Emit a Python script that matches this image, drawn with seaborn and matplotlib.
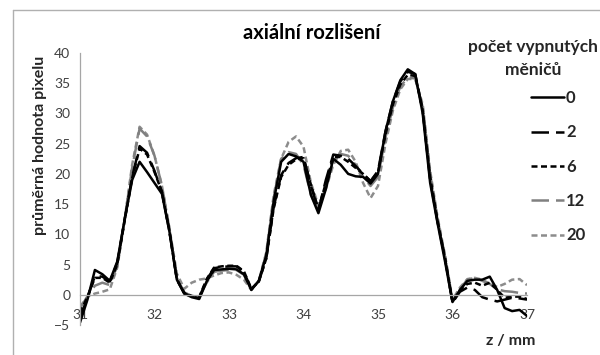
import numpy as np
import pandas as pd
import matplotlib
matplotlib.use("Agg")
import matplotlib.pyplot as plt
from matplotlib.lines import Line2D
import seaborn as sns

z = np.round(np.linspace(31.0, 37.0, 61), 2)

s0 = [-4.6, -0.8, 4.1, 3.4, 2.3, 5.5, 12.5, 19.0, 22.0, 20.3,
      18.5, 16.7, 10.5, 2.5, 0.2, -0.4, -0.7, 2.2, 4.1, 4.2,
      4.3, 4.2, 3.4, 0.8, 2.3, 6.5, 15.5, 22.0, 23.3, 22.9,
      22.0, 16.5, 13.5, 17.5, 22.5, 21.5, 20.0, 19.6, 19.5, 18.4,
      20.0, 27.0, 32.0, 35.5, 37.3, 36.5, 30.0, 18.5, 11.8, 5.5,
      -1.2, 0.8, 2.3, 2.5, 2.5, 3.0, 0.8, -2.2, -2.7, -2.5, -3.5]
s2 = [-3.8, -0.5, 3.1, 3.0, 2.2, 5.3, 12.5, 19.5, 24.6, 23.5,
      20.5, 17.0, 10.5, 2.5, 0.2, -0.3, -0.5, 2.5, 4.4, 4.6,
      4.7, 4.7, 3.8, 0.9, 2.2, 6.0, 14.5, 19.8, 21.8, 22.6,
      22.8, 18.0, 14.0, 19.0, 23.2, 23.0, 22.5, 21.3, 20.0, 18.8,
      20.5, 27.0, 32.0, 35.3, 36.9, 36.5, 30.5, 19.0, 12.0, 6.0,
      -1.3, 0.5, 1.2, 0.8, -0.4, -0.8, -1.1, -0.8, -0.5, -0.6, -0.8]
s6 = [-3.0, -0.3, 2.8, 2.8, 2.0, 5.0, 12.3, 19.3, 24.2, 23.2,
      20.3, 17.0, 10.5, 2.6, 0.3, -0.2, -0.4, 2.6, 4.5, 4.7,
      4.8, 4.8, 3.9, 1.0, 2.2, 6.0, 14.3, 19.5, 21.5, 22.4,
      22.6, 18.2, 14.2, 18.5, 22.8, 22.8, 22.0, 21.0, 20.0, 18.8,
      20.3, 26.5, 31.5, 34.8, 36.4, 36.2, 30.5, 19.5, 12.2, 6.0,
      -1.2, 0.8, 1.8, 2.0, 1.5, 2.0, 0.8, -0.5, -0.3, -0.3, -0.7]
s12 = [-2.2, -0.3, 1.5, 2.0, 1.6, 4.8, 12.5, 21.0, 27.5, 26.2,
       23.0, 18.0, 11.0, 2.8, 0.4, -0.2, -0.3, 2.0, 3.8, 4.0,
       4.1, 4.1, 3.3, 0.9, 2.3, 6.8, 16.0, 22.5, 23.6, 23.3,
       21.5, 16.5, 14.0, 18.0, 22.0, 23.3, 23.0, 21.5, 19.5, 18.0,
       19.5, 26.0, 31.0, 34.5, 35.9, 35.8, 31.0, 20.0, 12.5, 6.3,
       -1.0, 1.0, 2.5, 2.8, 2.3, 1.8, 0.9, 0.6, 0.5, 0.3, 0.2]
s20 = [-2.0, -0.3, 0.2, 0.5, 0.9, 4.5, 12.5, 21.5, 27.8, 26.5,
       23.0, 18.0, 11.0, 3.5, 1.0, 2.0, 2.5, 2.7, 3.2, 3.6,
       3.7, 3.3, 2.5, 0.8, 2.3, 7.0, 16.5, 22.5, 25.3, 26.2,
       24.5, 18.5, 14.8, 17.5, 21.5, 23.8, 24.0, 22.0, 18.5, 16.0,
       18.0, 25.0, 30.5, 34.0, 35.7, 35.7, 31.5, 20.5, 12.8, 6.5,
       -0.8, 1.2, 2.6, 2.8, 2.5, 1.8, 1.3, 1.8, 2.5, 2.6, 1.6]

labels = ["0", "2", "6", "12", "20"]
series = [s0, s2, s6, s12, s20]
y_ticks = [-5, 0, 5, 10, 15, 20, 25, 30, 35, 40]
x_ticks = [31, 32, 33, 34, 35, 36, 37]

colors = {"0": "#000000", "2": "#000000", "6": "#000000", "12": "#808080", "20": "#8c8c8c"}
dashes = {"0": "", "2": (7, 2.8), "6": (2.4, 1.4), "12": (7, 2.8), "20": (2.4, 1.4)}

df = pd.concat([pd.DataFrame({"z": z, "v": s, "n": lab}) for lab, s in zip(labels, series)],
               ignore_index=True)

sns.set_style("white")
plt.rcParams["font.family"] = ["Lato", "DejaVu Sans"]

fig = plt.figure(figsize=(6, 3.55), dpi=100)
ax = fig.add_axes([80/600, 1-325/355, 447/600, 272/355])
LW = 1.8
sns.lineplot(data=df, x="z", y="v", hue="n", style="n", palette=colors, dashes=dashes,
             hue_order=labels[::-1], style_order=labels[::-1],
             linewidth=LW, legend=False, ax=ax, sort=False)

ax.set_xlim(31, 37)
ax.set_ylim(-5, 40)
ax.set_xticks(x_ticks)
ax.set_yticks(y_ticks)
ax.set_xlabel("")
ax.set_ylabel("")
for sp in ["top", "right"]:
    ax.spines[sp].set_visible(False)
ax.spines["bottom"].set_position(("data", 0))
for sp in ["left", "bottom"]:
    ax.spines[sp].set_color("#a6a6a6")
    ax.spines[sp].set_linewidth(0.9)
ax.tick_params(axis="both", which="both", direction="out", length=4, width=0.9,
               color="#a6a6a6", labelsize=10, labelcolor="#404040")
ax.tick_params(axis="x", pad=6)
ax.tick_params(axis="y", pad=3)
ax.set_facecolor("none")

fig.text(312/600, 1-33/355, "axiální rozlišení", ha="center", va="center",
         fontsize=14.5, fontweight="bold", color="#000000")
fig.text(40/600, 1-145/355, "průměrná hodnota pixelu", ha="center", va="center",
         rotation=90, fontsize=11.5, fontweight="bold")
fig.text(511/600, 1-341/355, "z / mm", ha="center", va="center",
         fontsize=11.5, fontweight="bold")
fig.text(533/600, 1-47/355, "počet vypnutých", ha="center", va="center",
         fontsize=12.5, fontweight="bold")
fig.text(533/600, 1-70/355, "měničů", ha="center", va="center",
         fontsize=12.5, fontweight="bold")

handles = []
for lab in labels:
    d = dashes[lab]
    h = Line2D([0], [0], color=colors[lab], lw=LW)
    if d:
        h.set_dashes(d)
    handles.append(h)
leg = fig.legend(handles=handles, labels=labels, loc="upper left",
                 bbox_to_anchor=(531/600, 1-90/355), frameon=False,
                 borderpad=0, borderaxespad=0,
                 handlelength=2.0, handletextpad=0.1, labelspacing=1.1,
                 prop={"weight": "bold", "size": 12})

fig.add_artist(Line2D([13/600, 13/600], [0, 1-10/355], transform=fig.transFigure,
                      color="#b0b0b0", lw=1))
fig.add_artist(Line2D([13/600, 1], [1-10/355, 1-10/355], transform=fig.transFigure,
                      color="#b0b0b0", lw=1))

fig.savefig("out.png", dpi=100)
